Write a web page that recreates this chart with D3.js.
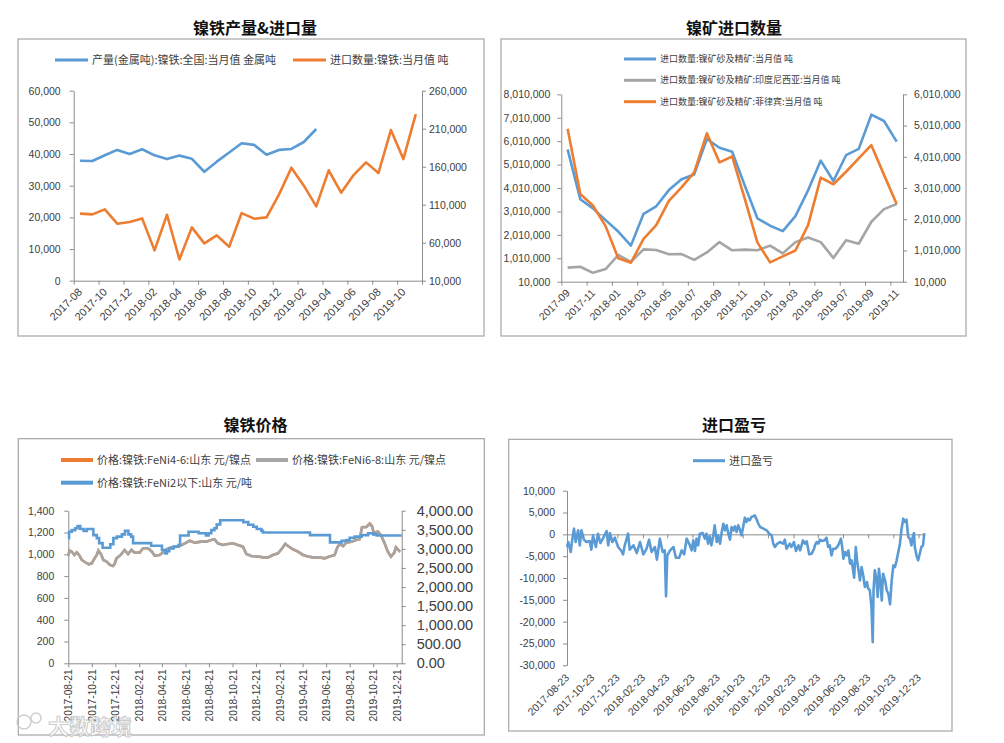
<!DOCTYPE html>
<html><head><meta charset="utf-8">
<script src="https://cdn.jsdelivr.net/npm/d3@7"></script>
<style>body{margin:0;background:#fff} svg{display:block}</style>
</head><body>
<script>
// ---------------- DATA ----------------
// Panel 1: 镍铁产量&进口量
const p1Months = ["2017-08","2017-09","2017-10","2017-11","2017-12","2018-01","2018-02","2018-03","2018-04","2018-05","2018-06","2018-07","2018-08","2018-09","2018-10","2018-11","2018-12","2019-01","2019-02","2019-03","2019-04","2019-05","2019-06","2019-07","2019-08","2019-09","2019-10","2019-11"];
const p1Output = [37900,37800,39600,41300,40000,41500,39600,38400,39500,38500,34400,37600,40500,43400,42900,39800,41300,41600,43800,47900];
const p1Imports = [98200,97300,103900,85000,87200,92000,49900,96800,38000,80200,59100,69600,54700,99000,91600,93300,123200,158700,135000,107800,155200,125800,149000,165700,151700,208200,170000,229300];
const p1LeftTicks = [0,10000,20000,30000,40000,50000,60000];
const p1RightTicks = [10000,60000,110000,160000,210000,260000];
const p1Legend = ["产量(金属吨):镍铁:全国:当月值 金属吨","进口数量:镍铁:当月值 吨"];

// Panel 2: 镍矿进口数量
const p2Months = ["2017-09","2017-10","2017-11","2017-12","2018-01","2018-02","2018-03","2018-04","2018-05","2018-06","2018-07","2018-08","2018-09","2018-10","2018-11","2018-12","2019-01","2019-02","2019-03","2019-04","2019-05","2019-06","2019-07","2019-08","2019-09","2019-10","2019-11"];
const p2Total = [5660000,3530000,3140000,2640000,2150000,1550000,2910000,3230000,3920000,4380000,4590000,6100000,5730000,5560000,4110000,2710000,2400000,2170000,2810000,3910000,5180000,4310000,5410000,5680000,7140000,6870000,5990000];
const p2Indonesia = [610000,650000,390000,550000,1150000,860000,1390000,1360000,1180000,1190000,940000,1260000,1700000,1350000,1380000,1350000,1550000,1220000,1700000,1900000,1700000,1020000,1780000,1630000,2570000,3110000,3330000];
const p2Philippines = [4910000,2820000,2450000,1790000,760000,620000,1380000,1820000,2600000,3030000,3510000,4760000,3830000,4020000,2660000,1260000,630000,820000,1010000,1820000,3340000,3130000,3530000,3960000,4380000,3430000,2500000];
const p2LeftTicks = [10000,1010000,2010000,3010000,4010000,5010000,6010000,7010000,8010000];
const p2RightTicks = [10000,1010000,2010000,3010000,4010000,5010000,6010000];
const p2Legend = ["进口数量:镍矿砂及精矿:当月值 吨","进口数量:镍矿砂及精矿:印度尼西亚:当月值 吨","进口数量:镍矿砂及精矿:菲律宾:当月值 吨"];

// Panel 3: 镍铁价格
const p3FeNi2 = [["2017-08-21",3280],["2017-08-23",3450],["2017-08-30",3490],["2017-09-08",3540],["2017-09-14",3600],["2017-09-21",3520],["2017-09-30",3470],["2017-10-08",3520],["2017-10-25",3360],["2017-11-03",3280],["2017-11-09",3150],["2017-11-18",3030],["2017-12-08",3120],["2017-12-16",3280],["2017-12-25",3320],["2018-01-07",3380],["2018-01-15",3470],["2018-01-24",3380],["2018-01-31",3320],["2018-02-05",3150],["2018-03-24",3080],["2018-04-21",2970],["2018-04-30",2880],["2018-05-04",2940],["2018-05-10",3010],["2018-05-21",3060],["2018-06-03",3100],["2018-06-07",3350],["2018-06-29",3450],["2018-07-25",3410],["2018-08-13",3350],["2018-08-20",3410],["2018-08-27",3490],["2018-09-04",3540],["2018-09-10",3640],["2018-09-19",3750],["2018-11-18",3700],["2018-12-01",3630],["2018-12-14",3580],["2018-12-23",3520],["2019-01-04",3470],["2019-01-08",3430],["2019-05-10",3360],["2019-07-01",3170],["2019-07-31",3210],["2019-08-13",3230],["2019-08-21",3290],["2019-09-03",3320],["2019-09-21",3360],["2019-10-08",3410],["2019-10-21",3380],["2019-10-30",3350],["2020-01-03",3350]];
const p3FeNi68 = [["2017-08-21",985],["2017-08-24",1035],["2017-08-30",1024],["2017-09-06",994],["2017-09-12",1018],["2017-09-18",994],["2017-09-25",948],["2017-10-04",927],["2017-10-13",908],["2017-10-21",917],["2017-10-28",963],["2017-11-03",994],["2017-11-07",1035],["2017-11-14",1000],["2017-11-20",948],["2017-11-29",932],["2017-12-06",905],["2017-12-15",893],["2017-12-19",911],["2017-12-24",963],["2018-01-04",994],["2018-01-14",1040],["2018-01-23",1003],["2018-02-01",1040],["2018-02-09",1015],["2018-02-22",1015],["2018-03-03",1055],["2018-03-16",1055],["2018-03-26",1024],["2018-04-02",988],["2018-04-15",994],["2018-04-24",1018],["2018-05-02",1046],["2018-05-15",1064],["2018-06-01",1070],["2018-06-12",1086],["2018-06-23",1107],["2018-07-02",1125],["2018-07-15",1107],["2018-08-01",1116],["2018-08-14",1116],["2018-08-27",1131],["2018-09-04",1138],["2018-09-13",1101],["2018-09-26",1086],["2018-10-09",1095],["2018-10-22",1101],["2018-11-04",1086],["2018-11-17",1070],["2018-11-26",1003],["2018-12-09",985],["2018-12-26",979],["2019-01-08",972],["2019-01-21",972],["2019-02-03",994],["2019-02-16",1009],["2019-02-25",1046],["2019-03-07",1095],["2019-03-14",1076],["2019-03-27",1046],["2019-04-09",1024],["2019-04-22",994],["2019-05-05",979],["2019-05-18",972],["2019-06-04",972],["2019-06-17",963],["2019-06-30",979],["2019-07-13",994],["2019-07-20",1064],["2019-07-26",1095],["2019-08-04",1076],["2019-08-12",1107],["2019-08-25",1116],["2019-09-07",1131],["2019-09-16",1138],["2019-09-22",1248],["2019-10-03",1248],["2019-10-12",1278],["2019-10-18",1254],["2019-10-23",1187],["2019-11-02",1208],["2019-11-10",1177],["2019-11-19",1107],["2019-11-28",1024],["2019-12-06",979],["2019-12-15",1015],["2019-12-19",1064],["2019-12-25",1040],["2019-12-30",1024]];
const p3FeNi46 = [["2017-08-21",985],["2017-08-24",1035],["2017-08-30",1024],["2017-09-06",994],["2017-09-12",1018],["2017-09-18",994],["2017-09-25",948],["2017-10-04",927],["2017-10-13",908],["2017-10-21",917],["2017-10-28",963],["2017-11-03",994],["2017-11-07",1035],["2017-11-14",1000],["2017-11-20",948],["2017-11-29",932],["2017-12-06",905],["2017-12-15",893],["2017-12-19",911],["2017-12-24",963],["2018-01-04",994],["2018-01-14",1040],["2018-01-23",1003],["2018-02-01",1040],["2018-02-09",1015],["2018-02-22",1015],["2018-03-03",1055],["2018-03-16",1055],["2018-03-26",1024],["2018-04-02",988],["2018-04-15",994],["2018-04-24",1018],["2018-05-02",1046],["2018-05-15",1064],["2018-06-01",1070],["2018-06-12",1086],["2018-06-23",1107],["2018-07-02",1125],["2018-07-15",1107],["2018-08-01",1116],["2018-08-14",1116],["2018-08-27",1131],["2018-09-04",1138],["2018-09-13",1101],["2018-09-26",1086],["2018-10-09",1095],["2018-10-22",1101],["2018-11-04",1086],["2018-11-17",1070],["2018-11-26",1003],["2018-12-09",985],["2018-12-26",979],["2019-01-08",972],["2019-01-21",972],["2019-02-03",994],["2019-02-16",1009],["2019-02-25",1046],["2019-03-07",1095],["2019-03-14",1076],["2019-03-27",1046],["2019-04-09",1024],["2019-04-22",994],["2019-05-05",979],["2019-05-18",972],["2019-06-04",972],["2019-06-17",963],["2019-06-30",979],["2019-07-13",994],["2019-07-20",1064],["2019-07-26",1095],["2019-08-04",1076],["2019-08-12",1107],["2019-08-25",1116],["2019-09-07",1131],["2019-09-16",1138],["2019-09-22",1248],["2019-10-03",1252],["2019-10-12",1284],["2019-10-18",1260],["2019-10-23",1195],["2019-11-02",1208],["2019-11-10",1177],["2019-11-19",1107],["2019-11-28",1024],["2019-12-06",979],["2019-12-15",1015],["2019-12-19",1064],["2019-12-25",1040],["2019-12-30",1024]];
const p3LeftTicks = [0,200,400,600,800,1000,1200,1400];
const p3RightTicks = [0,500,1000,1500,2000,2500,3000,3500,4000];
const p3DateTicks = ["2017-08-21","2017-10-21","2017-12-21","2018-02-21","2018-04-21","2018-06-21","2018-08-21","2018-10-21","2018-12-21","2019-02-21","2019-04-21","2019-06-21","2019-08-21","2019-10-21","2019-12-21"];
const p3Legend = ["价格:镍铁:FeNi4-6:山东 元/镍点","价格:镍铁:FeNi6-8:山东 元/镍点","价格:镍铁:FeNi2以下:山东 元/吨"];

// Panel 4: 进口盈亏
const p4Profit = [["2017-08-23",-2900],["2017-08-26",-1760],["2017-09-01",-4050],["2017-09-05",-990],["2017-09-09",1300],["2017-09-13",-1760],["2017-09-19",920],["2017-09-23",-2520],["2017-09-27",920],["2017-10-03",-1220],["2017-10-09",-1760],["2017-10-17",-1530],["2017-10-21",-3510],["2017-10-25",-230],["2017-11-01",-2900],["2017-11-06",150],["2017-11-12",-1990],["2017-11-18",-990],["2017-11-27",760],["2017-12-01",-2520],["2017-12-05",300],["2017-12-11",-1760],["2017-12-17",-760],["2017-12-25",-2900],["2018-01-02",-3820],["2018-01-06",-4580],["2018-01-10",-2520],["2018-01-18",150],["2018-01-22",-3510],["2018-01-31",-2520],["2018-02-08",-4280],["2018-02-16",-1760],["2018-02-24",-4580],["2018-03-04",-3290],["2018-03-10",-1220],["2018-03-16",-4050],["2018-03-24",-2900],["2018-03-29",-5800],["2018-04-05",-990],["2018-04-12",-4050],["2018-04-17",-3670],["2018-04-20",-14200],["2018-04-23",-4810],["2018-04-30",-3670],["2018-05-08",-2900],["2018-05-14",-5350],["2018-05-22",-5350],["2018-05-28",-3670],["2018-06-03",-4580],["2018-06-09",-990],["2018-06-17",-2520],["2018-06-21",-3670],["2018-06-25",-1380],["2018-06-29",-3820],["2018-07-03",-990],["2018-07-07",-2520],["2018-07-11",150],["2018-07-18",300],["2018-07-23",-990],["2018-07-27",150],["2018-07-31",-2140],["2018-08-04",-460],["2018-08-08",-2520],["2018-08-12",-610],["2018-08-16",2060],["2018-08-21",-1760],["2018-08-24",-230],["2018-08-29",-2140],["2018-09-02",530],["2018-09-06",2440],["2018-09-10",920],["2018-09-14",2060],["2018-09-18",150],["2018-09-22",-1220],["2018-09-26",1680],["2018-09-30",920],["2018-10-04",1830],["2018-10-08",530],["2018-10-12",2060],["2018-10-16",1070],["2018-10-20",-230],["2018-10-24",1680],["2018-10-28",3820],["2018-11-01",2830],["2018-11-05",3590],["2018-11-09",3210],["2018-11-13",3970],["2018-11-17",4130],["2018-11-21",4350],["2018-11-26",3360],["2018-11-29",2600],["2018-12-04",1680],["2018-12-12",1300],["2018-12-20",920],["2018-12-26",150],["2019-01-01",-230],["2019-01-05",-2140],["2019-01-09",-2900],["2019-01-13",-2290],["2019-01-21",-1760],["2019-01-29",-2140],["2019-02-02",-1220],["2019-02-06",-3290],["2019-02-14",-2140],["2019-02-18",-2900],["2019-02-24",-1760],["2019-03-01",-3820],["2019-03-07",-2520],["2019-03-11",-3670],["2019-03-18",-1380],["2019-03-23",-2140],["2019-03-27",-1600],["2019-04-02",-4580],["2019-04-08",-4430],["2019-04-14",-3290],["2019-04-16",-2520],["2019-04-20",-1760],["2019-04-24",-2140],["2019-04-28",-1220],["2019-05-02",-1530],["2019-05-09",-1380],["2019-05-14",-760],["2019-05-18",-2900],["2019-05-22",-2520],["2019-05-26",-4810],["2019-05-30",-3290],["2019-06-05",-3290],["2019-06-10",-2750],["2019-06-13",-2140],["2019-06-18",-990],["2019-06-21",-2900],["2019-06-24",-5580],["2019-06-28",-4050],["2019-07-02",-4810],["2019-07-06",-3670],["2019-07-10",-6720],["2019-07-14",-5960],["2019-07-18",-8630],["2019-07-20",-9930],["2019-07-24",-2900],["2019-07-27",-5960],["2019-07-30",-7870],["2019-08-03",-10540],["2019-08-07",-7490],["2019-08-11",-9400],["2019-08-15",-12070],["2019-08-20",-10920],["2019-08-23",-12450],["2019-08-27",-12840],["2019-08-31",-16660],["2019-09-03",-24680],["2019-09-05",-12840],["2019-09-08",-8250],["2019-09-12",-10160],["2019-09-15",-14360],["2019-09-18",-7870],["2019-09-21",-10540],["2019-09-25",-15130],["2019-09-28",-9010],["2019-10-03",-10540],["2019-10-07",-12840],["2019-10-11",-13600],["2019-10-15",-16040],["2019-10-19",-10540],["2019-10-23",-7100],["2019-10-27",-7490],["2019-10-31",-5960],["2019-11-04",-4050],["2019-11-08",-2140],["2019-11-12",1300],["2019-11-16",3590],["2019-11-20",2830],["2019-11-24",3360],["2019-11-28",-610],["2019-12-02",-990],["2019-12-06",-2520],["2019-12-09",-610],["2019-12-12",300],["2019-12-14",-2900],["2019-12-18",-4810],["2019-12-22",-5960],["2019-12-26",-4430],["2019-12-30",-2900],["2020-01-03",-2520],["2020-01-06",300]];
const p4Ticks = [-30000,-25000,-20000,-15000,-10000,-5000,0,5000,10000];
const p4DateTicks = ["2017-08-23","2017-10-23","2017-12-23","2018-02-23","2018-04-23","2018-06-23","2018-08-23","2018-10-23","2018-12-23","2019-02-23","2019-04-23","2019-06-23","2019-08-23","2019-10-23","2019-12-23"];
const p4Legend = ["进口盈亏"];

const titles = ["镍铁产量&进口量","镍矿进口数量","镍铁价格","进口盈亏"];

// ---------------- DRAW ----------------
const svg = d3.select("body").append("svg").attr("width",1004).attr("height",743);
svg.append("rect").attr("width",1004).attr("height",743).attr("fill","#fff");
const CJK = '"Noto Sans CJK SC", sans-serif';
const NUM = '"Liberation Sans", Arial, sans-serif';
const BLUE="#5b9bd5", ORANGE="#ed7d31", GRAY="#a5a5a5", AXIS="#8c8c8c", TXT="#404040";
const parse = d3.timeParse("%Y-%m-%d");
const fmtInt = v => d3.format(",")(v).replace("−","-");
const fmt2 = v => d3.format(",.2f")(v);

function frame(x0,y0,x1,y1){
  svg.append("rect").attr("x",x0).attr("y",y0).attr("width",x1-x0).attr("height",y1-y0)
    .attr("fill","none").attr("stroke","#a6a6a6").attr("stroke-width",1.2);
}
function title(cx,y,t){
  svg.append("text").attr("x",cx).attr("y",y).attr("text-anchor","middle")
    .style("font-family",CJK).style("font-weight","bold").style("font-size","16px").attr("fill","#111").text(t);
}
function legend(x,y,color,label,size,lw,len){
  svg.append("line").attr("x1",x).attr("x2",x+len).attr("y1",y).attr("y2",y).attr("stroke",color).attr("stroke-width",lw);
  svg.append("text").attr("x",x+len+4).attr("y",y).attr("dy","0.35em")
    .style("font-family",CJK).style("font-size",size+"px").attr("fill",TXT).text(label);
}
function styleAxis(g,fs){
  g.select(".domain").attr("stroke",AXIS);
  g.selectAll(".tick line").attr("stroke",AXIS);
  g.selectAll(".tick text").attr("fill",TXT).style("font-family",NUM).style("font-size",fs+"px");
}
function catLabels(scale,cats,step,axisY,dx,dy,fs){
  const bw = scale.bandwidth();
  svg.append("g").selectAll("text").data(cats.filter((d,i)=>i%step===0)).join("text")
    .attr("transform",d=>`translate(${scale(d)+bw/2+dx},${axisY+dy}) rotate(-45)`)
    .attr("text-anchor","end").style("font-family",NUM).style("font-size",fs+"px").attr("fill",TXT).text(d=>d);
}

// ===== Panel 1 =====
frame(18,39,484,336);
title(255,34,titles[0]);
legend(55,60,BLUE,p1Legend[0],11,3,33);
legend(293,60,ORANGE,p1Legend[1],11,3,33);
{
  const L=73.7,R=422,T=90.7,B=280.7;
  const x=d3.scaleBand().domain(p1Months).range([L,R]);
  const xi=d3.scaleLinear().domain([0,p1Months.length]).range([L,R]);
  const yl=d3.scaleLinear().domain([0,60000]).range([B,T]);
  const yr=d3.scaleLinear().domain([10000,260000]).range([B,T]);
  styleAxis(svg.append("g").attr("transform",`translate(${L},0)`).call(d3.axisLeft(yl).tickValues(p1LeftTicks).tickFormat(fmtInt).tickSize(4).tickSizeOuter(0).tickPadding(9)),10.5);
  styleAxis(svg.append("g").attr("transform",`translate(${R},0)`).call(d3.axisRight(yr).tickValues(p1RightTicks).tickFormat(fmtInt).tickSize(4).tickSizeOuter(0).tickPadding(3)),10.5);
  styleAxis(svg.append("g").attr("transform",`translate(0,${B})`).call(d3.axisBottom(xi).tickValues(d3.range(0,p1Months.length+1,2)).tickFormat("").tickSize(4).tickSizeOuter(0)),10);
  catLabels(x,p1Months,2,B,3,12,11);
  const cx=d=>x(d.m)+x.bandwidth()/2;
  svg.append("path").datum(p1Output.map((v,i)=>({m:p1Months[i],v})))
    .attr("d",d3.line().x(cx).y(d=>yl(d.v))).attr("fill","none").attr("stroke",BLUE).attr("stroke-width",2.6).attr("stroke-linejoin","round");
  svg.append("path").datum(p1Imports.map((v,i)=>({m:p1Months[i],v})))
    .attr("d",d3.line().x(cx).y(d=>yr(d.v))).attr("fill","none").attr("stroke",ORANGE).attr("stroke-width",2.6).attr("stroke-linejoin","round");
}

// ===== Panel 2 =====
frame(501,39,966,336);
title(734,34,titles[1]);
legend(624,59,BLUE,p2Legend[0],9,3,32);
legend(624,80.3,GRAY,p2Legend[1],9,3,32);
legend(624,101.7,ORANGE,p2Legend[2],9,3,32);
{
  const L=561.3,R=903,T=94.3,B=281.7;
  const x=d3.scaleBand().domain(p2Months).range([L,R]);
  const xi=d3.scaleLinear().domain([0,p2Months.length]).range([L,R]);
  const yl=d3.scaleLinear().domain([10000,8010000]).range([B,T]);
  const yr=d3.scaleLinear().domain([10000,6010000]).range([B,T]);
  styleAxis(svg.append("g").attr("transform",`translate(${L},0)`).call(d3.axisLeft(yl).tickValues(p2LeftTicks).tickFormat(fmtInt).tickSize(4).tickSizeOuter(0).tickPadding(7)),10.5);
  styleAxis(svg.append("g").attr("transform",`translate(${R},0)`).call(d3.axisRight(yr).tickValues(p2RightTicks).tickFormat(fmtInt).tickSize(4).tickSizeOuter(0).tickPadding(7)),10.5);
  styleAxis(svg.append("g").attr("transform",`translate(0,${B})`).call(d3.axisBottom(xi).tickValues(d3.range(0,p2Months.length,2)).tickFormat("").tickSize(4).tickSizeOuter(0)),10);
  catLabels(x,p2Months,2,B,3,12,10.5);
  const cx=(d,i)=>x(p2Months[i])+x.bandwidth()/2;
  const draw=(arr,ys,color)=>svg.append("path").datum(arr)
    .attr("d",d3.line().x(cx).y(d=>ys(d))).attr("fill","none").attr("stroke",color).attr("stroke-width",2.6).attr("stroke-linejoin","round");
  draw(p2Indonesia,yl,GRAY);
  draw(p2Total,yl,BLUE);
  draw(p2Philippines,yr,ORANGE);
}

// ===== Panel 3 =====
frame(18.3,438.7,484.3,735);
title(255.5,431,titles[2]);
legend(61,460,ORANGE,p3Legend[0],11,4,32);
legend(256,460,GRAY,p3Legend[1],11,4,32);
legend(61,482.7,BLUE,p3Legend[2],11,4,32);
{
  const L=68.3,R=401.7,T=510.7,B=663.3;
  const x=d3.scaleTime().domain([parse("2017-08-21"),parse("2020-01-03")]).range([L,R]);
  const yl=d3.scaleLinear().domain([0,1400]).range([B,T]);
  const yr=d3.scaleLinear().domain([0,4000]).range([B,T]);
  styleAxis(svg.append("g").attr("transform",`translate(${L},0)`).call(d3.axisLeft(yl).tickValues(p3LeftTicks).tickFormat(fmtInt).tickSize(4).tickSizeOuter(0).tickPadding(10)),10.5);
  styleAxis(svg.append("g").attr("transform",`translate(${R},0)`).call(d3.axisRight(yr).tickValues(p3RightTicks).tickFormat(fmt2).tickSize(4).tickSizeOuter(0).tickPadding(11)),14.5);
  const xg=svg.append("g").attr("transform",`translate(0,${B})`).call(d3.axisBottom(x).tickValues(p3DateTicks.map(parse)).tickFormat(d3.timeFormat("%Y-%m-%d")).tickSize(4).tickSizeOuter(0));
  styleAxis(xg,10.2);
  xg.selectAll(".tick text").attr("transform","rotate(-90)").attr("text-anchor","end").attr("x",-6).attr("y",0).attr("dy","0.35em");
  const line=d3.line().x(d=>x(parse(d[0]))).y(d=>yl(d[1]));
  svg.append("path").datum(p3FeNi46).attr("d",line).attr("fill","none").attr("stroke",ORANGE).attr("stroke-width",2.6);
  svg.append("path").datum(p3FeNi68).attr("d",line).attr("fill","none").attr("stroke",GRAY).attr("stroke-width",2.6);
  svg.append("path").datum(p3FeNi2).attr("d",d3.line().curve(d3.curveStepAfter).x(d=>x(parse(d[0]))).y(d=>yr(d[1])))
    .attr("fill","none").attr("stroke",BLUE).attr("stroke-width",2.6);
  // watermark
  const wm=svg.append("g").attr("opacity",0.85);
  wm.append("circle").attr("cx",24).attr("cy",722).attr("r",7).attr("fill","none").attr("stroke","#c8c8c8").attr("stroke-width",1.5);
  wm.append("circle").attr("cx",36).attr("cy",718).attr("r",5).attr("fill","none").attr("stroke","#c8c8c8").attr("stroke-width",1.5);
  wm.append("text").attr("x",48).attr("y",734).style("font-family",CJK).style("font-weight","bold").style("font-size","21px")
    .attr("fill","#fff").attr("stroke","#c4c4c4").attr("stroke-width",1).text("大数跨境");
}

// ===== Panel 4 =====
frame(508.7,439.3,952,731);
title(734,431,titles[3]);
legend(693,460.7,BLUE,p4Legend[0],11,3,32);
{
  const L=567,R=924.7,T=490.7,B=665.3;
  const x=d3.scaleTime().domain([parse("2017-08-23"),parse("2020-01-07")]).range([L,R]);
  const y=d3.scaleLinear().domain([-30000,10000]).range([B,T]);
  styleAxis(svg.append("g").attr("transform",`translate(${L},0)`).call(d3.axisLeft(y).tickValues(p4Ticks).tickFormat(fmtInt).tickSize(4).tickSizeOuter(0).tickPadding(8)),10.5);
  styleAxis(svg.append("g").attr("transform",`translate(0,${y(0)})`).call(d3.axisBottom(x).tickValues(p4DateTicks.map(parse)).tickFormat("").tickSize(4).tickSizeOuter(0)),10);
  svg.append("g").selectAll("text").data(p4DateTicks).join("text")
    .attr("transform",d=>`translate(${x(parse(d))+3},${B+13}) rotate(-45)`)
    .attr("text-anchor","end").style("font-family",NUM).style("font-size","10.5px").attr("fill",TXT).text(d=>d);
  svg.append("path").datum(p4Profit).attr("d",d3.line().x(d=>x(parse(d[0]))).y(d=>y(d[1])))
    .attr("fill","none").attr("stroke",BLUE).attr("stroke-width",2.6).attr("stroke-linejoin","round");
}
</script>
</body></html>
